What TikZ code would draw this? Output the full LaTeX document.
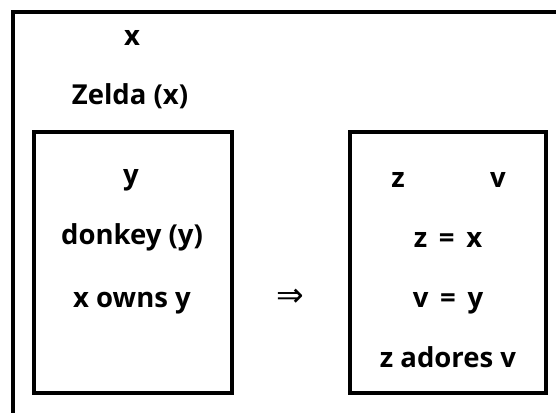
\documentclass[tikz,border=0pt]{standalone}
\usepackage{fontspec}
\setmainfont{Open Sans}
\newfontfamily\symfont{DejaVu Sans}
\begin{document}
\begin{tikzpicture}[x=1pt,y=-1pt,
  frame/.style={draw=black,line width=3.5pt},
  lbl/.style={inner sep=0pt,anchor=base,font=\fontsize{27.5}{30}\selectfont\bfseries},
  drsbox/.style={draw=black,line width=3.5pt,inner sep=0pt}]
\useasboundingbox (0,0) rectangle (556,412);
\begin{scope}
\clip (0,0) rectangle (556,412);
\draw[frame] (13,430) -- (13,12) -- (580,12);
\end{scope}
\node[lbl] (x) at (132,45.5) {x};
\node[lbl] (zelda) at (130,104.5) {Zelda (x)};
\node[drsbox,minimum width=198pt,minimum height=261pt] (left) at (133,262.5) {};
\node[lbl] (y) at (131,184.5) {y};
\node[lbl] (donkey) at (132,244.5) {donkey (y)};
\node[lbl] (owns) at (132,307.5) {x owns y};
\node[inner sep=0pt,font=\symfont\fontsize{33}{36}\selectfont] (impl) at (290,298) {⇒};
\node[drsbox,minimum width=196pt,minimum height=261pt] (right) at (448,262.5) {};
\node[lbl] (z) at (398,187.5) {z};
\node[lbl] (v) at (498,187.5) {v};
\node[lbl] (zx) at (448,247.5) {z \,=\, x};
\node[lbl] (vy) at (448,307.5) {v \,=\, y};
\node[lbl] (adores) at (448,367.5) {z adores v};
\end{tikzpicture}
\end{document}
